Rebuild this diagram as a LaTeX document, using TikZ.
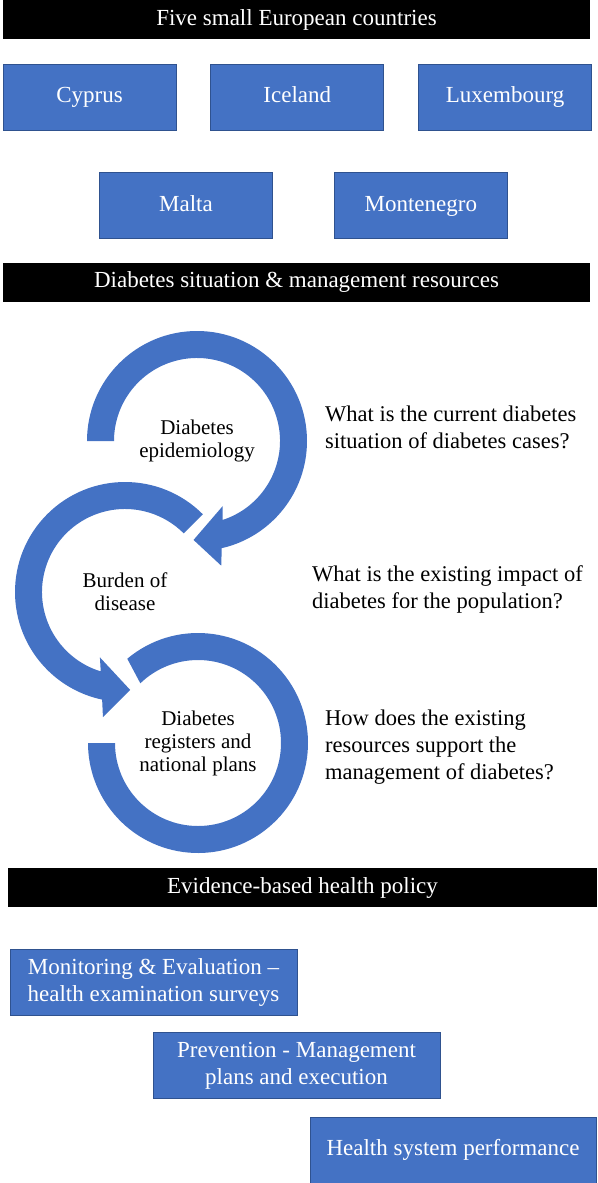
\documentclass[tikz,border=0pt]{standalone}
\usepackage{fontspec}
\setmainfont{Liberation Serif}
\usetikzlibrary{positioning}
\definecolor{boxblue}{HTML}{4472C4}
\definecolor{boxedge}{HTML}{2F528F}

\begin{document}
\begin{tikzpicture}[x=1pt,y=1pt,
      node distance=34pt,
      bar/.style={rectangle,fill=black,text=white,minimum height=39pt,inner sep=0pt,text height=16pt,text depth=5pt,font=\fontsize{23}{27}\selectfont},
      bluebox/.style={rectangle,draw=boxedge,line width=0.8pt,fill=boxblue,text=white,minimum width=173pt,minimum height=66pt,inner sep=0pt,align=center,font=\fontsize{23}{27}\selectfont},
      country/.style={bluebox,text height=16pt,text depth=5pt},
      policy/.style={bluebox,minimum width=287pt},
      ring/.style={fill=boxblue},
      lbl/.style={align=center,inner sep=0pt,font=\fontsize{21}{23}\selectfont},
      question/.style={anchor=west,align=left,inner sep=0pt,font=\fontsize{22.5}{27}\selectfont}
    ]
    \useasboundingbox (0,0) rectangle (597,-1183);
    \node[bar,minimum width=587pt] (countries) at (296.5,-19.5) {Five small European countries};
    \node[country] (cyprus) at (89.5,-97) {Cyprus};
    \node[country,right=of cyprus] (iceland) {Iceland};
    \node[country,right=of iceland] (luxembourg) {Luxembourg};
    \node[country] (malta) at (186,-205.5) {Malta};
    \node[country,right=61pt of malta] (montenegro) {Montenegro};
    \node[bar,minimum width=587pt] (situation) at (296.5,-282) {Diabetes situation \& management resources};
    \coordinate (c1) at (197,-441);
    \coordinate (c2) at (125,-592);
    \coordinate (c3) at (198,-743);
    \fill[ring,shift={(c1)}] (180:110) arc[start angle=180,end angle=-77,radius=110]
      -- (-79:127) -- (-92:99) -- (-68.5:70) -- (-72:83)
      arc[start angle=-72,end angle=180,radius=83] -- cycle;
    \fill[ring,shift={(c2)}] (45:110) arc[start angle=45,end angle=258,radius=110]
      -- (260:127) -- (273:98) -- (249:70) -- (253:83)
      arc[start angle=253,end angle=45,radius=83] -- cycle;
    \fill[ring,shift={(c3)}] (130:110) arc[start angle=130,end angle=-180,radius=110]
      -- (-180:83) arc[start angle=-180,end angle=134,radius=83] -- cycle;
    \node[lbl] (epi) at (c1) {Diabetes\\epidemiology};
    \node[lbl] (burden) at (c2) {Burden of\\disease};
    \node[lbl] (registers) at (c3) {Diabetes\\registers and\\national plans};
    \node[question] (q1) at (325,-427) {What is the current diabetes\\situation of diabetes cases?};
    \node[question] (q2) at (312,-589) {What is the existing impact of\\diabetes for the population?};
    \node[question] (q3) at (325,-747) {How does the existing\\resources support the\\management of diabetes?};
    \node[bar,minimum width=589pt] (policy) at (302.5,-887.5) {Evidence-based health policy};
    \node[policy] (monitoring) at (153.5,-982) {Monitoring \& Evaluation --\\health examination surveys};
    \node[policy] (prevention) at (296.5,-1065.5) {Prevention - Management\\plans and execution};
    \node[policy,minimum width=286pt] (performance) at (453,-1150) {Health system performance};
  \end{tikzpicture}
\end{document}
